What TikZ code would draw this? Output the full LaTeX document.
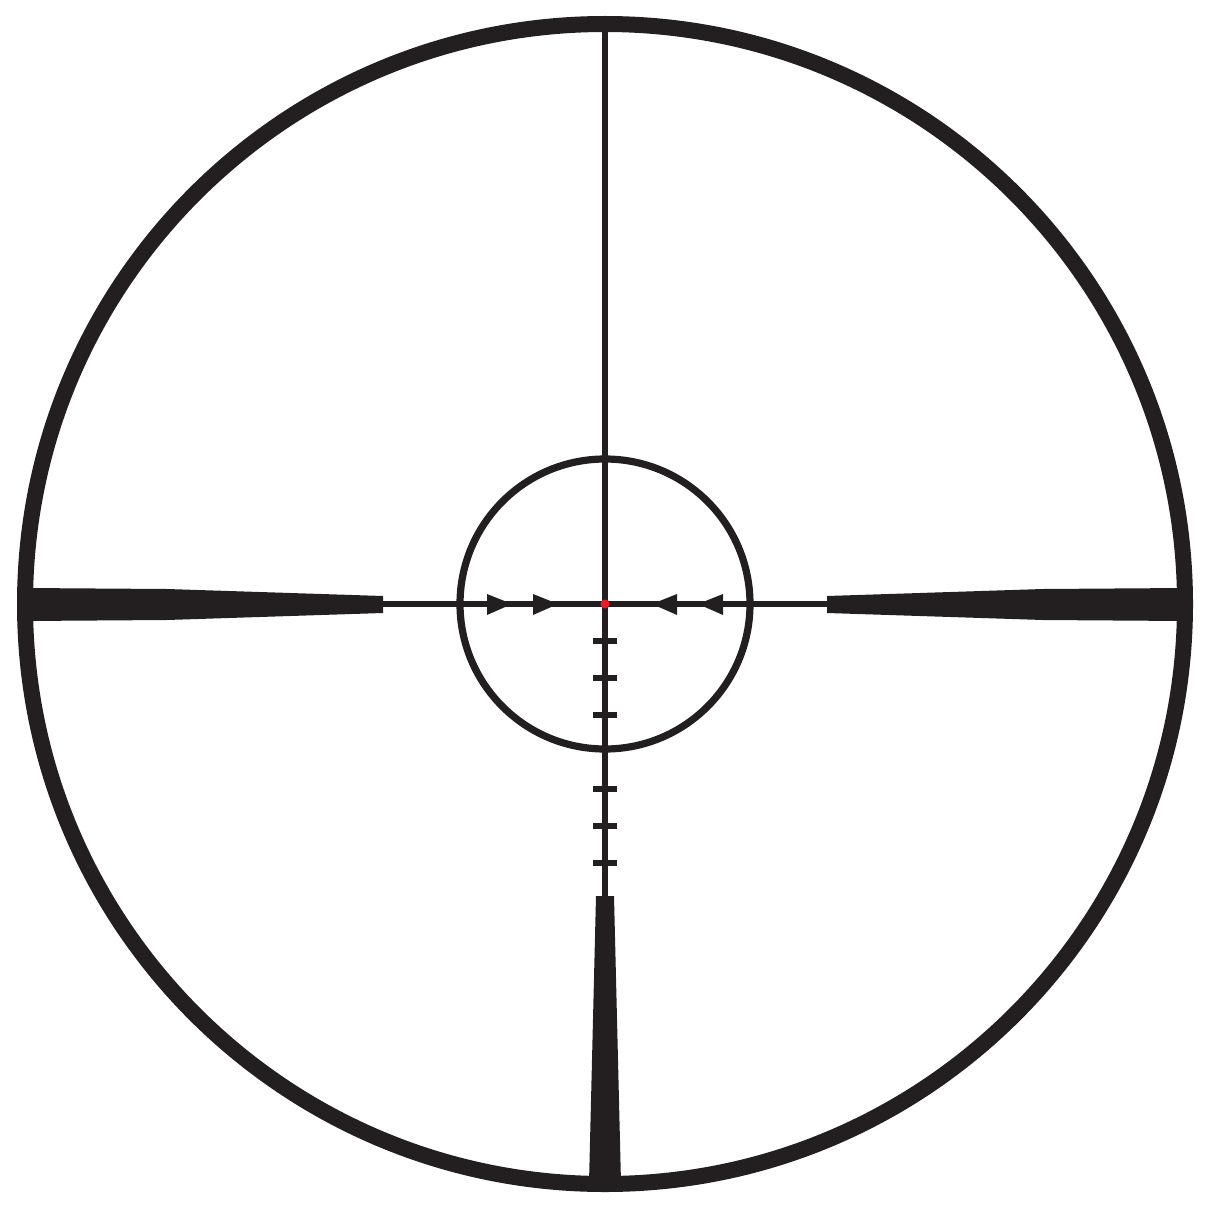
\documentclass[tikz,border=0pt]{standalone}
\definecolor{ink}{RGB}{35,31,32}
\definecolor{dotred}{RGB}{237,28,36}
\begin{document}
\begin{tikzpicture}[x=0.5pt,y=-0.5pt,
  hair/.style={draw=ink,line width=2.6pt},
  ring/.style={draw=ink,line width=8pt},
  innerring/.style={draw=ink,line width=3.6pt},
  post/.style={fill=ink},
  tick/.style={draw=ink,line width=3pt},
  chevron/.style={fill=ink}]
\useasboundingbox (0,0) rectangle (1214,1214);
\coordinate (c) at (605,604);
% crosshair lines
\draw[hair] (605,30) -- (605,900);
\draw[hair] (380,604) -- (830,604);
% posts
\fill[post] (25,588) -- (167,589) -- (383,596) -- (383,613) -- (167,620) -- (25,621) -- cycle;
\fill[post] (1185,588) -- (1043,589) -- (827,596) -- (827,613) -- (1043,620) -- (1185,621) -- cycle;
\fill[post] (596,896) -- (614,896) -- (621,1183) -- (589,1183) -- cycle;
% outer ring
\draw[ring] (c) circle[radius=580];
% inner ring
\draw[innerring] (c) circle[radius=145];
% chevrons
\fill[chevron] (487,594) -- (512,604) -- (487,615) -- cycle;
\fill[chevron] (533,594) -- (558,604) -- (533,615) -- cycle;
\fill[chevron] (677,594) -- (652,604) -- (677,615) -- cycle;
\fill[chevron] (723,594) -- (698,604) -- (723,615) -- cycle;
% ticks
\foreach \k in {1,2,3,5,6,7} {
  \draw[tick] (593,604+37*\k) -- (617,604+37*\k);
}
% red dot
\fill[dotred] (c) circle[radius=4.5];
\end{tikzpicture}
\end{document}
